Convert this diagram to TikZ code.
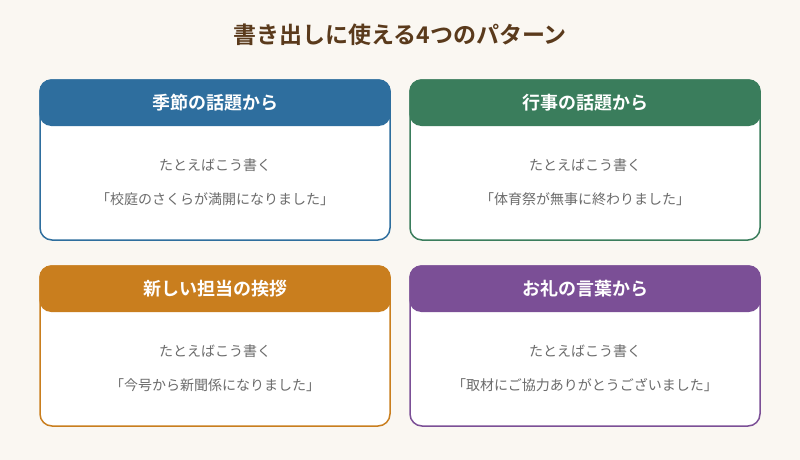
\documentclass[tikz,border=0pt]{standalone}
\usepackage{fontspec}
\setmainfont{Noto Sans CJK JP}
\newfontfamily\jpbold{Noto Sans CJK JP Bold}
\definecolor{bg}{HTML}{FAF7F2}
\definecolor{ttl}{HTML}{5A3A1C}
\definecolor{cblue}{HTML}{2E6E9E}
\definecolor{cgreen}{HTML}{3A7D5C}
\definecolor{corange}{HTML}{C97E1E}
\definecolor{cpurple}{HTML}{7B4F96}
\definecolor{txt}{HTML}{6B6B6B}
\tikzset{
  card/.style={draw=#1, line width=1.5pt, fill=white, rounded corners=12pt},
  head/.style={fill=#1, rounded corners=12pt},
  htext/.style={text=white, font=\jpbold\fontsize{18}{20}\selectfont},
  btext/.style={text=txt, font=\fontsize{14}{16}\selectfont}
}
\newcommand{\mycard}[6]{%
  \draw[card=#3] (#1,#2) rectangle ++(350,160);
  \fill[head=#3] (#1-0.75,#2-0.75) rectangle ++(351.5,46.75);
  \node[htext] (#6h) at (#1+175,#2+23) {#4};
  \node[btext] (#6a) at (#1+175,#2+85) {たとえばこう書く};
  \node[btext] (#6b) at (#1+175,#2+119) {#5};
}
\begin{document}
\begin{tikzpicture}[x=1pt,y=-1pt]
\fill[bg] (0,0) rectangle (800,460);
\useasboundingbox (0,0) rectangle (800,460);
\node[text=ttl, font=\jpbold\fontsize{23}{26}\selectfont] (title) at (400,35) {書き出しに使える4つのパターン};
\mycard{40}{80}{cblue}{季節の話題から}{「校庭のさくらが満開になりました」}{a}
\mycard{410}{80}{cgreen}{行事の話題から}{「体育祭が無事に終わりました」}{b}
\mycard{40}{266}{corange}{新しい担当の挨拶}{「今号から新聞係になりました」}{c}
\mycard{410}{266}{cpurple}{お礼の言葉から}{「取材にご協力ありがとうございました」}{d}
\end{tikzpicture}
\end{document}
